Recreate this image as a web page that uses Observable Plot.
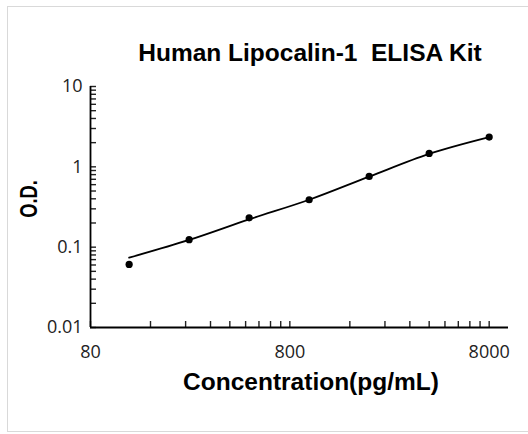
<!DOCTYPE html>
<html><head><meta charset="utf-8">
<script src="https://cdn.jsdelivr.net/npm/d3@7"></script>
<script src="https://cdn.jsdelivr.net/npm/@observablehq/plot@0.6"></script>
<style>
body{margin:0;background:#fff;}
#wrap{position:relative;width:528px;height:434px;overflow:hidden;font-family:"Liberation Sans",Arial,sans-serif;background:#fff;}
#frame{position:absolute;left:7px;top:6px;width:560px;height:426px;border:1px solid #d9d9d9;box-sizing:border-box;}
#chart{position:absolute;left:0;top:0;}
.t{position:absolute;white-space:pre;font-weight:bold;color:#000;line-height:1;}
#title{left:310px;top:41px;font-size:24.5px;transform:translateX(-50%);}
#xlab{left:311px;top:370px;font-size:24.5px;transform:translateX(-50%);}
#ylab{left:29px;top:199px;font-size:24px;transform:translate(-50%,-50%) rotate(-90deg) scaleX(0.76);}
</style>
</head><body>
<div id="wrap">
  <div id="frame"></div>
  <div id="chart"></div>
  <div class="t" id="title">Human Lipocalin-1  ELISA Kit</div>
  <div class="t" id="xlab">Concentration(pg/mL)</div>
  <div class="t" id="ylab">O.D.</div>
</div>
<script>
// Data
const concentration = [125, 250, 500, 1000, 2000, 4000, 8000];
const odMeasured = [0.061, 0.124, 0.232, 0.389, 0.759, 1.469, 2.345];
const odFitted = [0.074, 0.123, 0.222, 0.389, 0.755, 1.45, 2.345];

const xMajorTicks = [80, 800, 8000];
const xMinorTicks = [160, 240, 320, 400, 480, 560, 640, 720, 1600, 2400, 3200, 4000, 4800, 5600, 6400, 7200];
const yMajorTicks = [0.01, 0.1, 1, 10];
const yMinorTicks = [0.02, 0.03, 0.04, 0.05, 0.06, 0.07, 0.08, 0.09, 0.2, 0.3, 0.4, 0.5, 0.6, 0.7, 0.8, 0.9, 2, 3, 4, 5, 6, 7, 8, 9];
const xDomain = [80, 10000];
const yDomain = [0.01, 10];

const points = concentration.map((c, i) => ({c, od: odMeasured[i]}));
const fit = concentration.map((c, i) => ({c, od: odFitted[i]}));

const chart = Plot.plot({
  width: 528,
  height: 434,
  marginLeft: 90,
  marginRight: 20,
  marginTop: 86,
  marginBottom: 107,
  x: {type: "log", domain: xDomain},
  y: {type: "log", domain: yDomain},
  style: {fontFamily: "'Open Sans', 'Liberation Sans', Arial, sans-serif", fontSize: "18px", color: "#222", background: "transparent"},
  marks: [
    Plot.axisX({ticks: [...xMajorTicks, ...xMinorTicks], tickSize: -6, tickFormat: () => "", label: null, strokeWidth: 1.4}),
    Plot.text(xMajorTicks, {x: d => d, y: () => yDomain[0], dy: 25, text: d => String(d), textAnchor: "middle", fill: "#222", fontSize: 18}),
    Plot.axisY({ticks: [...yMajorTicks, ...yMinorTicks], tickSize: -6, tickFormat: () => "", label: null, strokeWidth: 1.4}),
    Plot.axisY({ticks: yMajorTicks, tickSize: 0, tickPadding: 8, tickFormat: d => String(d), label: null}),
    Plot.ruleY([yDomain[0]], {stroke: "#000", strokeWidth: 1.8}),
    Plot.ruleX([xDomain[0]], {stroke: "#000", strokeWidth: 1.8}),
    Plot.line(fit, {x: "c", y: "od", curve: "monotone-x", stroke: "#000", strokeWidth: 1.8}),
    Plot.dot(points, {x: "c", y: "od", r: 3.6, fill: "#000", stroke: "none"})
  ]
});
document.getElementById("chart").appendChild(chart);
</script>
</body></html>
